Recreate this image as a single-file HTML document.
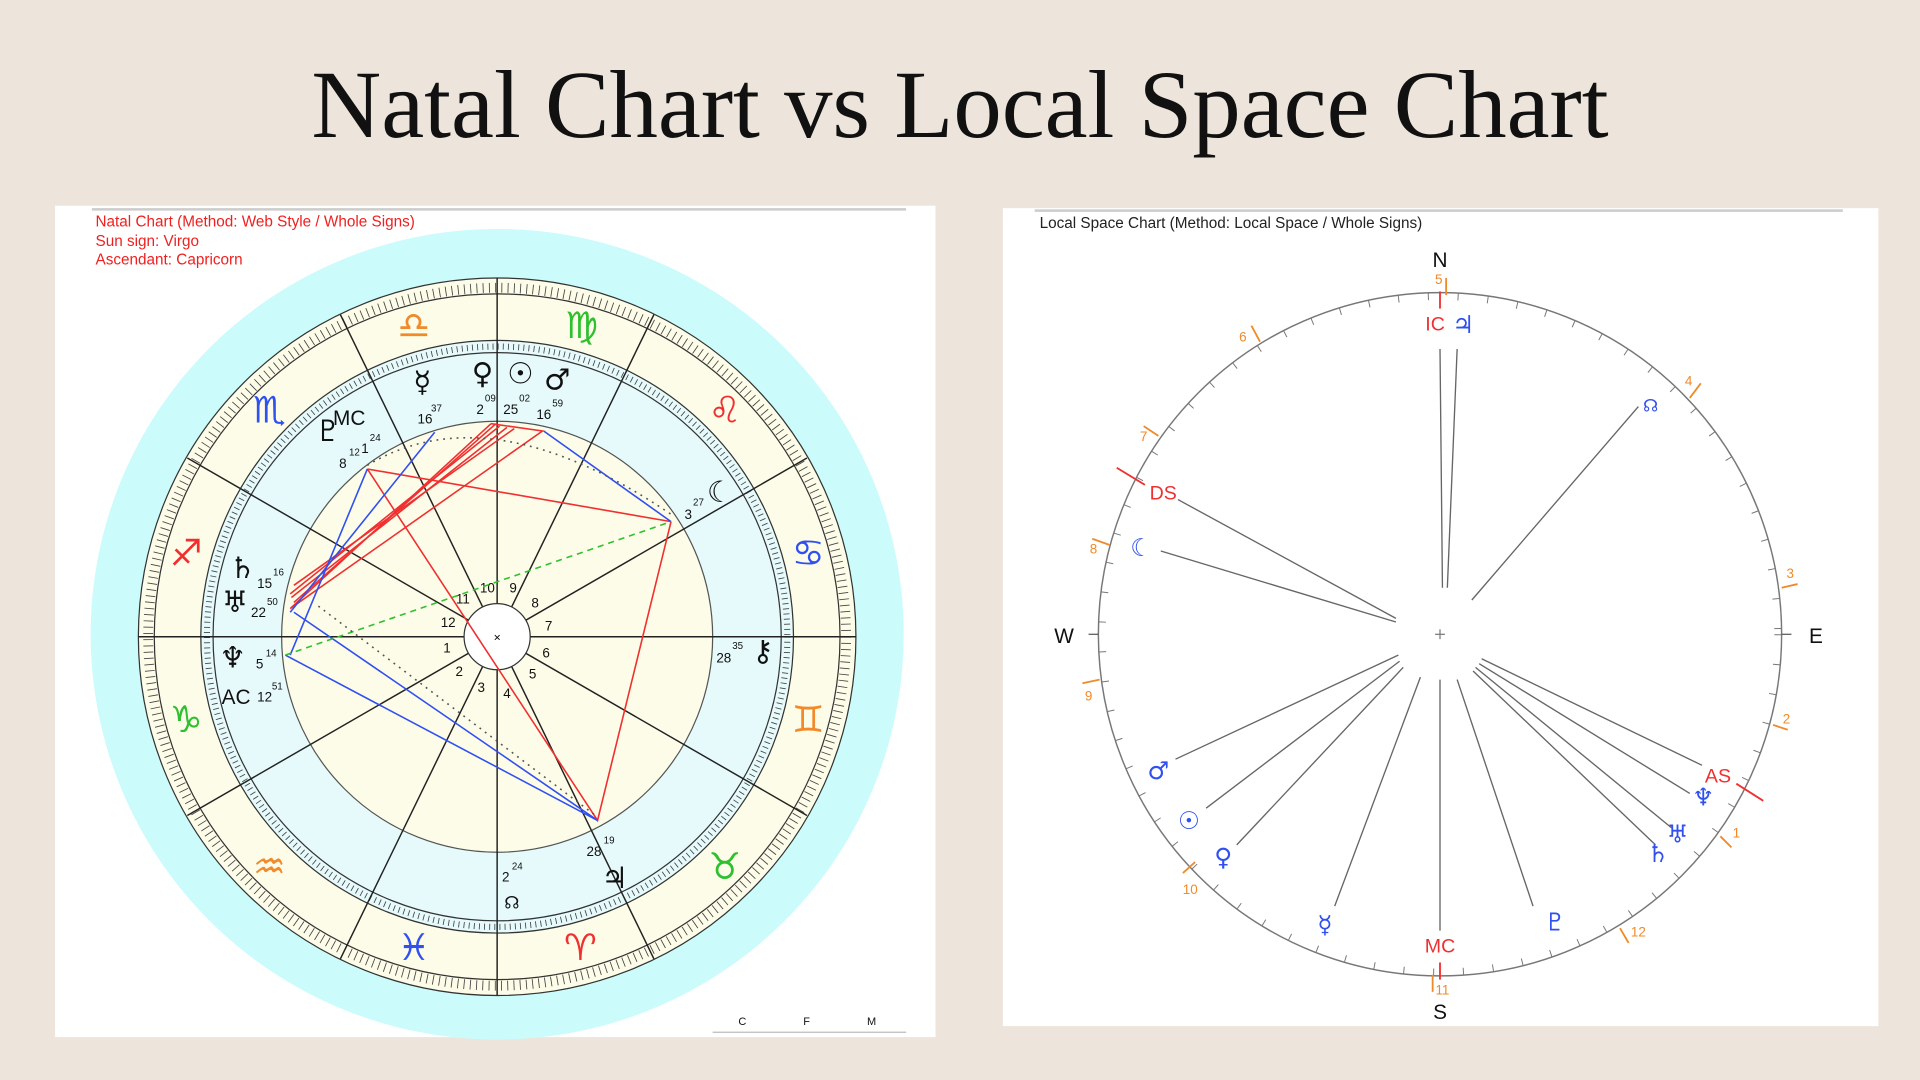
<!DOCTYPE html>
<html><head><meta charset="utf-8"><style>
html,body{margin:0;padding:0;background:#ede5db;}
svg{display:block}
</style></head><body>
<svg width="1920" height="1080" viewBox="0 0 1568 882" preserveAspectRatio="none" xmlns="http://www.w3.org/2000/svg" font-family="Liberation Sans, sans-serif">
<rect width="1568" height="882" fill="#ede5db"/>
<text x="784" y="112" text-anchor="middle" font-family="Liberation Serif, serif" font-size="79" fill="#111">Natal Chart vs Local Space Chart</text>

<!-- LEFT PANEL -->
<rect x="45" y="168" width="719" height="679" fill="#fff"/>
<line x1="75" y1="171" x2="740" y2="171" stroke="#ccc" stroke-width="2"/>
<ellipse cx="406" cy="518" rx="332" ry="331" fill="#ccfbfc"/>
<text x="78" y="185" font-size="12.5" fill="#f02020">Natal Chart  (Method: Web Style / Whole Signs)</text>
<text x="78" y="201" font-size="12.5" fill="#f02020">Sun sign: Virgo</text>
<text x="78" y="216" font-size="12.5" fill="#f02020">Ascendant: Capricorn</text>
<g transform="translate(406,520)">
<circle r="293" fill="#fdfce8" stroke="#333" stroke-width="1"/>
<circle r="285" fill="none" stroke="#444" stroke-width="8" stroke-dasharray="0.7 4.4"/>
<circle r="280" fill="none" stroke="#333" stroke-width="1"/>
<circle r="242" fill="#e6fafc" stroke="#333" stroke-width="1"/>
<circle r="237" fill="none" stroke="#444" stroke-width="5" stroke-dasharray="0.7 3.5"/>
<circle r="232" fill="none" stroke="#333" stroke-width="1"/>
<circle r="176" fill="#fdfce8" stroke="#555" stroke-width="1"/>
<g stroke="#222" stroke-width="1.2">
<line x1="-293" y1="0" x2="293" y2="0"/>
<line x1="0" y1="-293" x2="0" y2="293"/>
<line x1="-253" y1="-146" x2="253" y2="146"/>
<line x1="-253" y1="146" x2="253" y2="-146"/>
<line x1="-128" y1="-263" x2="128" y2="263"/>
<line x1="128" y1="-263" x2="-128" y2="263"/>
</g>
<circle r="27" fill="#fff" stroke="#333"/>
<text x="0" y="4" font-size="10" text-anchor="middle">×</text>
<g font-size="11" fill="#111" text-anchor="middle">
<text x="-8" y="-36">10</text><text x="13" y="-36">9</text><text x="31" y="-24">8</text>
<text x="42" y="-5">7</text><text x="40" y="17">6</text><text x="29" y="34">5</text>
<text x="8" y="50">4</text><text x="-13" y="45">3</text><text x="-31" y="32">2</text>
<text x="-41" y="13">1</text><text x="-40" y="-8">12</text><text x="-28" y="-27">11</text>
</g>
</g>
<!-- aspect lines -->
<g fill="none" stroke-width="1.3">
<g stroke="#f03030">
<polyline points="401,346 443,352 237,497 401,346"/>
<line x1="414" y1="349" x2="238" y2="488"/>
<line x1="420" y1="350" x2="240" y2="478"/>
<line x1="405" y1="346" x2="240" y2="492"/>
<line x1="300" y1="383" x2="548" y2="426"/>
<polyline points="300,383 488,670 548,426"/>
<line x1="408" y1="348" x2="237" y2="485"/>
</g>
<g stroke="#3050f0">
<line x1="444" y1="352" x2="548" y2="426"/>
<line x1="355" y1="353" x2="237" y2="500"/>
<line x1="300" y1="383" x2="237" y2="535"/>
<line x1="233" y1="535" x2="488" y2="670"/>
<line x1="240" y1="500" x2="488" y2="670"/>
</g>
<line x1="233" y1="535" x2="548" y2="426" stroke="#30c030" stroke-dasharray="5 4"/>
<line x1="260" y1="495" x2="485" y2="665" stroke="#555" stroke-dasharray="1.5 4"/>
<path d="M300,380 Q400,320 548,420" stroke="#555" stroke-dasharray="1.5 4"/>
</g>
<!-- zodiac glyphs -->
<g font-size="30" text-anchor="middle" font-family="DejaVu Sans, sans-serif">
<text x="338" y="276" fill="#f08a2a">♎</text>
<text x="475" y="276" fill="#2ec02e">♍</text>
<text x="592" y="345" fill="#f03030">♌</text>
<text x="660" y="462" fill="#3050f0">♋</text>
<text x="660" y="598" fill="#f08a2a">♊</text>
<text x="592" y="718" fill="#2ec02e">♉</text>
<text x="474" y="784" fill="#f03030">♈</text>
<text x="338" y="784" fill="#3050f0">♓</text>
<text x="220" y="718" fill="#f08a2a">♒</text>
<text x="152" y="598" fill="#2ec02e">♑</text>
<text x="152" y="462" fill="#f03030">♐</text>
<text x="220" y="345" fill="#3050f0">♏</text>
</g>
<!-- planet glyphs -->
<g font-size="24" text-anchor="middle" font-family="DejaVu Sans, sans-serif" fill="#111">
<text x="345" y="320">☿</text><text x="394" y="313">♀</text><text x="425" y="313">☉</text><text x="455" y="318">♂</text>
<text x="588" y="410">☾</text><text x="623" y="540">⚷</text><text x="502" y="725">♃</text><text x="418" y="742" font-size="14">☊</text>
<text x="198" y="472">♄</text><text x="192" y="500">♅</text><text x="190" y="545">♆</text><text x="268" y="360">♇</text>
</g>
<g font-size="11" fill="#111">
<text x="341" y="346">16</text><text x="352" y="336" font-size="8">37</text>
<text x="389" y="338">2</text><text x="396" y="328" font-size="8">09</text>
<text x="411" y="338">25</text><text x="424" y="328" font-size="8">02</text>
<text x="438" y="342">16</text><text x="451" y="332" font-size="8">59</text>
<text x="559" y="424">3</text><text x="566" y="413" font-size="8">27</text>
<text x="585" y="541">28</text><text x="598" y="530" font-size="8">35</text>
<text x="479" y="699">28</text><text x="493" y="689" font-size="8">19</text>
<text x="410" y="720">2</text><text x="418" y="710" font-size="8">24</text>
<text x="210" y="480">15</text><text x="223" y="470" font-size="8">16</text>
<text x="205" y="504">22</text><text x="218" y="494" font-size="8">50</text>
<text x="209" y="546">5</text><text x="217" y="536" font-size="8">14</text>
<text x="277" y="382">8</text><text x="285" y="372" font-size="8">12</text>
<text x="295" y="370">1</text><text x="302" y="360" font-size="8">24</text>
<text x="210" y="573">12</text><text x="222" y="563" font-size="8">51</text>
</g>
<text x="272" y="347" font-size="17" fill="#111">MC</text>
<text x="181" y="575" font-size="17" fill="#111">AC</text>
<g font-size="9" fill="#111"><text x="603" y="837">C</text><text x="656" y="837">F</text><text x="708" y="837">M</text></g>
<line x1="582" y1="843" x2="740" y2="843" stroke="#bbb"/>

<!-- RIGHT PANEL -->
<rect x="819" y="170" width="715" height="668" fill="#fff"/>
<line x1="845" y1="172" x2="1505" y2="172" stroke="#ccc" stroke-width="2"/>
<text x="849" y="186" font-size="12.5" fill="#222">Local Space Chart  (Method: Local Space / Whole Signs)</text>
<g transform="translate(1176,518)">
<circle r="279" fill="none" stroke="#777" stroke-width="1.2"/>
<circle r="276" fill="none" stroke="#777" stroke-width="6" stroke-dasharray="0.8 23.55"/>
<line x1="-4" y1="0" x2="4" y2="0" stroke="#777"/><line x1="0" y1="-4" x2="0" y2="4" stroke="#777"/>
<line x1="-287" y1="0" x2="-279" y2="0" stroke="#555"/><line x1="279" y1="0" x2="287" y2="0" stroke="#555"/>
</g>
<g font-size="17" fill="#111" text-anchor="middle">
<text x="1176" y="218">N</text><text x="1176" y="832">S</text><text x="869" y="525">W</text><text x="1483" y="525">E</text>
</g>
<g stroke="#666" stroke-width="1.1">
<line x1="1176" y1="285" x2="1178" y2="480"/><line x1="1190" y1="285" x2="1182" y2="480"/>
<line x1="1338" y1="332" x2="1202" y2="490"/>
<line x1="962" y1="408" x2="1140" y2="505"/>
<line x1="948" y1="450" x2="1140" y2="508"/>
<line x1="960" y1="620" x2="1142" y2="535"/>
<line x1="985" y1="660" x2="1143" y2="540"/>
<line x1="1010" y1="690" x2="1146" y2="545"/>
<line x1="1090" y1="740" x2="1160" y2="553"/>
<line x1="1176" y1="760" x2="1176" y2="555"/>
<line x1="1252" y1="740" x2="1190" y2="555"/>
<line x1="1390" y1="625" x2="1210" y2="538"/>
<line x1="1380" y1="648" x2="1208" y2="542"/>
<line x1="1365" y1="676" x2="1205" y2="545"/>
<line x1="1352" y1="690" x2="1203" y2="548"/>
</g>
<g stroke="#f08a2a" stroke-width="1.5">
<line x1="1181" y1="227" x2="1181" y2="241"/><line x1="1389" y1="313" x2="1380" y2="325"/>
<line x1="1468" y1="477" x2="1455" y2="480"/><line x1="1460" y1="596" x2="1448" y2="592"/>
<line x1="1414" y1="692" x2="1405" y2="683"/><line x1="1330" y1="770" x2="1323" y2="758"/>
<line x1="1170" y1="810" x2="1170" y2="796"/><line x1="966" y1="713" x2="976" y2="704"/>
<line x1="884" y1="558" x2="898" y2="555"/><line x1="892" y1="440" x2="906" y2="445"/>
<line x1="934" y1="348" x2="946" y2="356"/><line x1="1022" y1="266" x2="1029" y2="279"/>
</g>
<g fill="#f08a2a" font-size="11" text-anchor="middle">
<text x="1175" y="232">5</text><text x="1379" y="315">4</text><text x="1462" y="472">3</text><text x="1459" y="591">2</text>
<text x="1418" y="684">1</text><text x="1338" y="765">12</text><text x="1178" y="812">11</text><text x="972" y="730">10</text>
<text x="889" y="572">9</text><text x="893" y="452">8</text><text x="934" y="360">7</text><text x="1015" y="279">6</text>
</g>
<g stroke="#f03030" stroke-width="1.5">
<line x1="1176" y1="238" x2="1176" y2="252"/><line x1="1176" y1="786" x2="1176" y2="800"/>
<line x1="912" y1="382" x2="935" y2="396"/><line x1="1418" y1="640" x2="1440" y2="654"/>
</g>
<g fill="#f03030" font-size="16" text-anchor="middle">
<text x="1172" y="270">IC</text><text x="1176" y="778">MC</text><text x="950" y="408">DS</text><text x="1403" y="639">AS</text>
</g>
<g fill="#3050f0" font-size="20" text-anchor="middle" font-family="DejaVu Sans, sans-serif">
<text x="1195" y="272">♃</text><text x="1348" y="336" font-size="14">☊</text><text x="932" y="454">☾</text>
<text x="946" y="636">♂</text><text x="971" y="677">☉</text><text x="999" y="707">♀</text>
<text x="1082" y="762">☿</text><text x="1270" y="760">♇</text><text x="1391" y="658">♆</text>
<text x="1370" y="688">♅</text><text x="1354" y="704">♄</text>
</g>
</svg>
</body></html>
